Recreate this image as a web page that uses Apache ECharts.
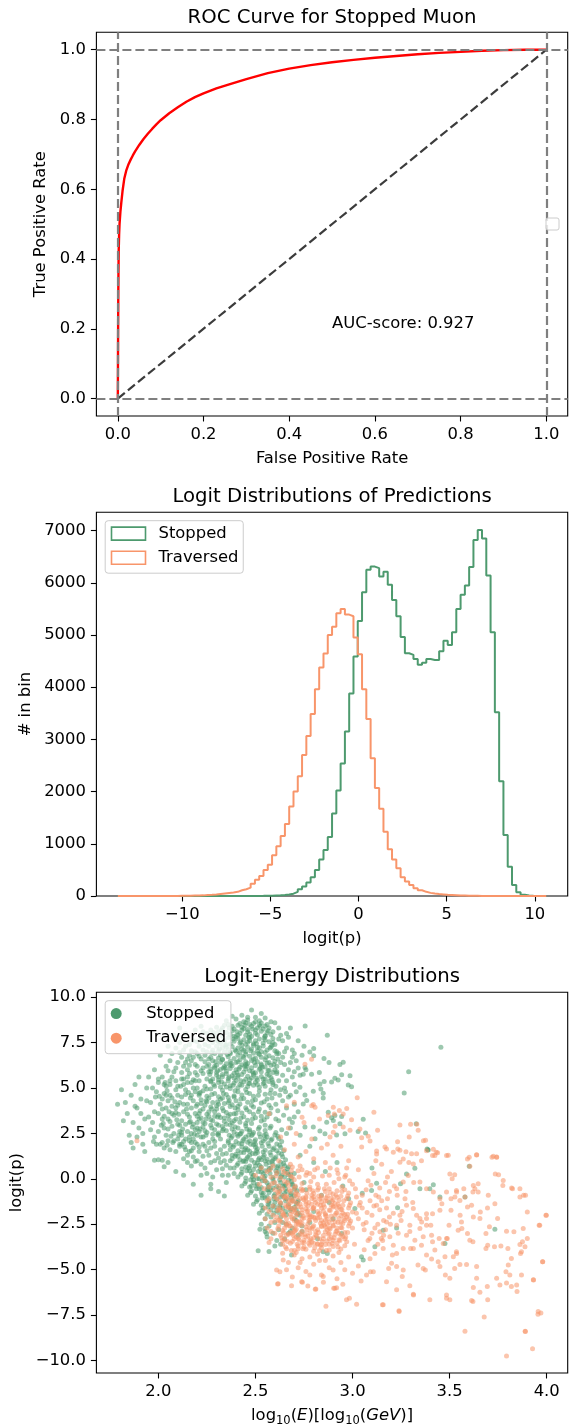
<!DOCTYPE html>
<html><head><meta charset="utf-8">
<script src="https://cdn.jsdelivr.net/npm/echarts@6/dist/echarts.min.js"></script>
<style>html,body{margin:0;padding:0;background:#fff}#c{width:575px;height:1428px}</style>
</head><body><div id="c"></div>
<script>
// ---------- ROC data ----------
const rocFpr = [0,0.0005,0.001,0.0015,0.002,0.003,0.004,0.006,0.008,0.011,0.015,0.02,0.025,0.03,0.035,0.04,0.05,0.06,0.07,0.08,0.09,0.1,0.12,0.14,0.16,0.18,0.2,0.23,0.26,0.3,0.35,0.4,0.45,0.5,0.55,0.6,0.65,0.7,0.75,0.8,0.85,0.9,0.95,1.0];
const rocTpr = [0,0.15,0.28,0.36,0.42,0.47,0.5,0.535,0.56,0.595,0.63,0.655,0.672,0.685,0.697,0.708,0.727,0.744,0.759,0.773,0.786,0.798,0.818,0.835,0.851,0.864,0.875,0.889,0.901,0.916,0.933,0.946,0.956,0.964,0.971,0.977,0.982,0.987,0.991,0.994,0.997,0.999,1.0,1.0];
const chanceLine = [[0,0],[1,1]];
const refXLines = [0,1];
const refYLines = [0,1];
const aucText = 'AUC-score: 0.927';
const aucPos = [0.5,0.2];
const rocTicks = [0,0.2,0.4,0.6,0.8,1.0];

// ---------- Histogram data (100 bins) ----------
const histBinStart = -13.66;
const histBinWidth = 0.2431;
const stoppedCounts = [0,0,0,0,0,0,0,0,0,0,0,0,0,0,0,0,0,0,0,0,0,0,0,0,0,0,0,0,0,0,0,0,
 2,3,5,7,10,13,20,30,45,80,
 130,180,260,360,500,700,880,1130,1580,2020,
 2540,3150,3880,4590,5270,5820,6250,6310,6280,6120,
 6210,5960,5670,5360,4960,4650,4620,4540,4430,4470,
 4540,4520,4520,4690,4890,4810,5050,5500,5770,5950,
 6300,6820,7010,6850,6140,5050,3520,2200,1170,560,
 210,70,25,10,4,2,1,0];
const traversedCounts = [0,1,0,0,1,0,1,1,0,1,1,2,2,
 2,3,4,5,8,10,12,18,22,28,38,48,58,68,80,110,130,160,235,310,385,500,600,780,955,1150,1380,1715,2000,2295,2700,3065,3485,3960,4375,4645,5000,5160,5415,5500,5390,5360,4950,4630,3960,3390,2640,2070,1670,1230,895,700,530,360,280,210,150,110,80,60,48,38,30,22,18,14,10,8,6,4,3,2,2,1,1,
 0,0,0,0,0,0,0,0,0,0,0,1];
const histXTicks = [-10,-5,0,5,10];
const histYTicks = [0,1000,2000,3000,4000,5000,6000,7000];

// ---------- Scatter data: [log10(E), logit(p)] ----------
const stoppedPoints = [
[2.33,8.3],[2.36,8.5],[2.39,8.25],[2.41,8.45],[2.43,8.35],[2.45,8.6],[2.46,8.22],[2.48,8.4],[2.49,8.55],[2.51,8.3],[2.52,8.48],[2.54,8.25],[2.55,8.42],[2.57,8.3],[2.38,8.4],[2.44,8.28],[2.47,8.5],[2.5,8.2],[2.53,8.58],
[2.29,7.9],[2.31,8.1],[2.33,7.85],[2.35,8.05],[2.37,7.95],[2.38,8.15],[2.4,7.82],[2.42,8.0],[2.43,8.18],[2.45,7.9],[2.46,8.08],[2.48,7.84],[2.5,8.02],[2.51,7.93],[2.53,8.12],[2.55,7.88],[2.56,8.05],[2.58,7.95],[2.41,7.92],[2.47,7.98],
[2.28,7.5],[2.3,7.7],[2.32,7.45],[2.34,7.62],[2.36,7.78],[2.37,7.42],[2.39,7.58],[2.41,7.72],[2.42,7.48],[2.44,7.66],[2.46,7.52],[2.47,7.75],[2.49,7.44],[2.5,7.6],[2.52,7.7],[2.54,7.48],[2.55,7.65],[2.57,7.55],[2.59,7.72],[2.45,7.41],
[2.28,7.1],[2.3,7.3],[2.31,7.05],[2.33,7.22],[2.35,7.38],[2.36,7.12],[2.38,7.28],[2.4,7.02],[2.41,7.2],[2.43,7.35],[2.44,7.08],[2.46,7.25],[2.48,7.15],[2.49,7.36],[2.51,7.04],[2.52,7.22],[2.54,7.32],[2.56,7.1],[2.58,7.26],[2.6,7.05],
[2.27,6.7],[2.29,6.9],[2.31,6.65],[2.32,6.82],[2.34,6.98],[2.36,6.72],[2.37,6.88],[2.39,6.62],[2.41,6.8],[2.42,6.95],[2.44,6.68],[2.45,6.86],[2.47,6.75],[2.49,6.92],[2.5,6.64],[2.52,6.84],[2.53,6.7],[2.55,6.96],[2.57,6.78],[2.59,6.66],[2.61,6.88],
[2.26,6.3],[2.28,6.5],[2.3,6.25],[2.32,6.42],[2.33,6.58],[2.35,6.33],[2.37,6.48],[2.38,6.22],[2.4,6.4],[2.42,6.55],[2.43,6.28],[2.45,6.45],[2.46,6.35],[2.48,6.52],[2.5,6.24],[2.51,6.44],[2.53,6.32],[2.55,6.56],[2.56,6.38],[2.58,6.26],[2.6,6.46],
[2.27,5.9],[2.29,6.1],[2.3,5.85],[2.32,6.02],[2.34,6.18],[2.35,5.92],[2.37,6.08],[2.39,5.82],[2.4,6.0],[2.42,6.15],[2.44,5.88],[2.45,6.05],[2.47,5.95],[2.48,6.12],[2.5,5.84],[2.52,6.04],[2.53,5.9],[2.55,6.16],[2.57,5.98],[2.59,5.86],
[2.28,5.5],[2.3,5.7],[2.31,5.45],[2.33,5.62],[2.35,5.78],[2.36,5.52],[2.38,5.68],[2.4,5.42],[2.41,5.6],[2.43,5.75],[2.45,5.48],[2.46,5.65],[2.48,5.55],[2.49,5.72],[2.51,5.44],[2.53,5.64],[2.54,5.5],[2.56,5.76],[2.58,5.58],
[2.29,5.1],[2.31,5.3],[2.32,5.05],[2.34,5.22],[2.36,5.38],[2.37,5.12],[2.39,5.28],[2.41,5.02],[2.42,5.2],[2.44,5.35],[2.46,5.08],[2.47,5.25],[2.49,5.15],[2.5,5.32],[2.52,5.04],[2.54,5.24],[2.55,5.1],[2.57,5.36],
[2.285,8.05],[2.305,7.6],[2.325,8.2],[2.345,7.35],[2.365,8.3],[2.385,7.7],[2.405,8.1],[2.425,7.55],[2.445,8.45],[2.465,7.8],[2.485,8.25],[2.505,7.45],[2.525,8.4],[2.545,7.75],[2.565,8.15],[2.585,7.35],
[2.275,6.95],[2.295,6.45],[2.315,7.15],[2.335,6.1],[2.355,6.85],[2.375,6.35],[2.395,7.1],[2.415,6.05],[2.435,6.75],[2.455,6.2],[2.475,7.05],[2.495,6.4],[2.515,6.9],[2.535,6.15],[2.555,6.7],[2.575,7.2],[2.595,6.3],[2.615,6.6],
[2.265,5.75],[2.285,5.2],[2.305,5.95],[2.325,5.35],[2.345,6.1],[2.365,5.6],[2.385,5.15],[2.405,5.85],[2.425,5.4],[2.445,6.2],[2.465,5.25],[2.485,5.9],[2.505,5.55],[2.525,6.1],[2.545,5.3],[2.565,5.95],[2.585,5.45],[2.605,5.1],
[2.3,8.35],[2.34,8.45],[2.42,8.55],[2.5,8.65],[2.56,8.5],[2.46,8.9],
[2.31,7.55],[2.35,7.25],[2.39,7.85],[2.43,7.15],[2.47,7.6],[2.51,7.25],[2.55,7.85],[2.59,7.5],[2.33,6.55],[2.37,6.95],[2.41,6.45],[2.45,7.0],[2.49,6.6],[2.53,7.0],[2.57,6.4],[2.29,6.2],[2.33,5.75],[2.37,6.25],[2.41,5.7],[2.45,6.3],[2.49,5.8],[2.53,6.25],[2.57,5.7],[2.61,5.9],[2.27,5.35],[2.31,5.6],[2.35,5.05],[2.39,5.55],[2.43,5.15],[2.47,5.45],[2.51,5.2],[2.55,5.5],[2.59,5.3],
[2.06,5.2],[2.08,5.9],[2.1,6.4],[2.12,5.5],[2.13,7.1],[2.15,6.0],[2.16,6.8],[2.17,5.3],[2.18,7.6],[2.19,6.3],[2.2,5.7],[2.21,7.3],[2.22,6.6],[2.23,8.1],[2.24,5.1],[2.25,7.0],[2.26,5.9],[2.27,7.8],[2.11,7.5],[2.14,8.0],[2.19,8.2],[2.22,7.7],[2.07,6.9],[2.09,5.4],[2.13,6.2],[2.16,7.4],[2.2,6.9],[2.23,6.1],[2.25,5.5],[2.26,6.6],[2.18,5.0],[2.04,6.2],[2.02,5.6],[2.05,7.3],[2.08,7.9],[2.12,6.7],[2.17,6.5],[2.21,5.4],[2.24,7.4],[2.27,8.2],[2.15,5.6],[2.1,5.1],[2.19,7.0],[2.23,5.8],[2.26,7.3],[2.14,6.4],[2.22,8.4],[2.03,5.2],[2.0,5.5],[2.06,6.5],[2.09,7.2],[2.16,5.8],[2.2,6.2],[2.24,6.8],[2.27,5.4],[2.11,8.3],[1.98,6.0],[2.01,6.8],[2.25,8.0],[2.18,6.7],
[2.12,5.85],[2.14,7.3],[2.16,6.25],[2.18,5.45],[2.2,7.55],[2.22,5.95],[2.24,6.45],[2.26,7.65],[2.15,6.6],[2.19,5.85],[2.21,6.75],[2.23,7.1],[2.25,6.2],[2.27,6.05],[2.17,7.05],[2.13,5.2],[2.09,6.1],[2.07,5.6],[2.11,6.95],[2.05,5.95],
[2.59,8.1],[2.6,7.4],[2.61,6.2],[2.62,5.4],[2.63,7.9],[2.64,6.7],[2.65,5.0],[2.66,7.2],[2.67,6.0],[2.68,8.3],[2.69,5.6],[2.7,6.9],[2.71,4.8],[2.72,7.6],[2.6,4.7],[2.62,6.9],[2.64,7.6],[2.66,5.4],[2.68,6.4],[2.7,5.9],[2.61,5.8],[2.63,4.9],[2.65,6.3],[2.67,7.8],[2.69,7.1],[2.71,6.5],[2.6,8.6],[2.62,8.3],[2.59,5.2],[2.6,6.0],[2.63,6.4],[2.65,7.0],[2.66,8.0],[2.68,4.6],[2.7,5.2],[2.73,5.7],[2.74,6.8],[2.72,6.1],[2.61,7.0],[2.64,5.7],[2.67,4.5],[2.69,6.7],[2.75,7.3],[2.76,6.0],[2.62,7.7],
[2.35,8.7],[2.4,8.8],[2.43,9.0],[2.46,8.75],[2.48,9.3],[2.5,8.9],[2.52,8.7],[2.55,8.85],[2.58,8.65],[2.44,8.65],[2.38,8.95],[2.53,9.1],
[2.21,4.6],[2.23,4.85],[2.25,4.55],[2.27,4.95],[2.29,4.7],[2.31,4.52],[2.33,4.88],[2.35,4.65],[2.37,4.98],[2.39,4.58],[2.41,4.8],[2.43,4.62],[2.45,4.92],[2.47,4.7],[2.49,4.55],[2.52,4.84],[2.55,4.66],[2.58,4.9],
[2.2,4.1],[2.22,4.35],[2.24,4.05],[2.26,4.45],[2.28,4.2],[2.3,4.02],[2.32,4.38],[2.34,4.15],[2.36,4.48],[2.38,4.08],[2.4,4.3],[2.42,4.12],[2.44,4.42],[2.46,4.22],[2.48,4.05],[2.5,4.36],[2.53,4.18],[2.56,4.4],
[2.21,3.6],[2.23,3.85],[2.25,3.55],[2.27,3.95],[2.29,3.7],[2.31,3.52],[2.33,3.88],[2.35,3.65],[2.37,3.98],[2.39,3.58],[2.41,3.8],[2.43,3.62],[2.45,3.92],[2.47,3.7],[2.49,3.55],[2.52,3.84],[2.55,3.66],[2.58,3.9],
[2.2,3.1],[2.22,3.35],[2.24,3.05],[2.26,3.45],[2.28,3.2],[2.3,3.02],[2.32,3.38],[2.34,3.15],[2.36,3.48],[2.38,3.08],[2.4,3.3],[2.42,3.12],[2.44,3.42],[2.46,3.22],[2.48,3.05],[2.5,3.36],[2.53,3.18],[2.56,3.4],
[2.21,2.6],[2.23,2.85],[2.25,2.55],[2.27,2.95],[2.29,2.7],[2.31,2.52],[2.33,2.88],[2.35,2.65],[2.37,2.98],[2.39,2.58],[2.41,2.8],[2.43,2.62],[2.45,2.92],[2.47,2.7],[2.49,2.55],[2.52,2.84],[2.55,2.66],[2.58,2.9],
[2.215,4.75],[2.245,4.3],[2.275,4.65],[2.305,4.25],[2.335,4.7],[2.365,4.3],[2.395,4.85],[2.425,4.4],[2.455,4.75],[2.485,4.3],[2.515,4.6],[2.545,4.25],[2.575,4.7],
[2.215,3.75],[2.245,3.3],[2.275,3.85],[2.305,3.4],[2.335,3.75],[2.365,3.25],[2.395,3.9],[2.425,3.35],[2.455,3.8],[2.485,3.3],[2.515,3.7],[2.545,3.25],[2.575,3.6],[2.605,3.3],
[2.215,2.75],[2.245,2.4],[2.275,2.8],[2.305,2.45],[2.335,2.75],[2.365,2.4],[2.395,2.85],[2.425,2.5],[2.455,2.75],[2.485,2.45],[2.515,2.75],[2.545,2.4],[2.575,2.8],[2.605,2.55],
[2.25,4.95],[2.33,4.45],[2.41,4.0],[2.49,3.95],[2.57,4.05],[2.29,3.45],[2.37,3.55],[2.45,3.05],[2.53,3.45],[2.23,3.1],[2.31,2.95],[2.39,3.2],[2.47,2.6],[2.55,2.95],
[2.585,4.45],[2.605,4.1],[2.615,3.75],[2.625,4.6],[2.635,2.7],[2.645,3.5],[2.655,4.8],[2.675,3.3],
[1.96,4.2],[1.97,3.1],[1.98,2.3],[1.99,4.8],[2.0,3.6],[2.01,1.9],[2.02,4.4],[2.03,2.8],[2.04,5.1],[2.05,3.3],[2.06,1.6],[2.07,4.0],[2.08,2.5],[2.09,4.9],[2.1,3.0],[2.11,1.8],[2.12,4.5],[2.13,3.7],[2.14,2.2],[2.15,5.3],[2.16,3.4],[2.17,2.0],[2.18,4.3],[2.19,2.7],[2.2,5.0],[1.97,5.0],[1.98,3.7],[2.0,2.6],[2.01,4.1],[2.03,1.7],[2.04,3.9],[2.06,4.6],[2.07,2.9],[2.08,3.5],[2.1,2.2],[2.11,4.2],[2.12,3.2],[2.14,4.9],[2.15,2.6],[2.16,1.5],[2.17,3.9],[2.18,3.0],[2.19,5.4],[2.05,2.1],[2.02,3.3],[1.99,1.9],[2.09,1.5],[2.13,5.5],[2.2,1.9],[2.21,4.7],[2.22,2.3],[2.06,5.4],[2.03,4.7],[1.95,3.4],[1.96,2.7],[2.0,5.3],[2.11,2.6],[2.15,4.1],[2.19,3.6],[2.09,3.9],[2.04,2.4],[2.07,3.6],[2.12,1.9],[2.17,4.6],[2.02,2.0],[2.14,3.0],[2.2,2.8],[2.05,4.3],[2.1,4.6],[2.16,2.3],
[2.005,4.55],[2.025,3.05],[2.045,4.85],[2.065,2.35],[2.085,4.25],[2.105,3.55],[2.125,2.75],[2.145,3.85],[2.165,4.45],[2.185,2.45],[2.015,2.95],[2.035,5.3],[2.055,3.7],[2.075,2.0],[2.095,3.25],[2.115,5.1],[2.135,1.75],[2.155,4.75],[2.175,2.85],[2.195,4.0],[1.985,4.5],[1.975,2.05],[2.045,1.85],[2.105,2.4],[2.165,3.15],
[2.02,3.85],[2.04,4.6],[2.06,3.15],[2.08,2.1],[2.1,4.05],[2.12,2.55],[2.14,4.65],[2.16,3.1],[2.18,2.2],[2.2,3.45],[2.22,4.15],[2.24,2.65],[2.26,3.7],[2.28,2.45],[2.3,3.85],[2.32,2.2],[2.34,3.35],[2.36,4.2],[2.38,2.75],[2.4,3.6],
[2.03,3.45],[2.05,2.75],[2.07,4.45],[2.09,3.65],[2.11,2.95],[2.13,4.1],[2.15,3.55],[2.17,2.5],[2.19,4.8],[2.21,3.3],[2.23,1.9],[2.25,4.25],[2.27,3.25],[2.29,1.8],[2.31,4.1],[2.33,2.65],[2.35,3.0],[2.37,1.85],[2.39,4.5],[2.41,2.35],
[2.15,1.3],[2.19,0.95],[2.23,1.25],[2.27,0.9],[2.31,1.15],[2.35,0.75],[2.25,1.55],[2.29,2.05],[2.33,1.35],[2.21,1.75],[2.17,1.55],[2.13,2.05],[2.39,0.3],[2.37,1.0],[2.33,0.55],
[1.79,4.1],[1.81,4.9],[1.83,4.2],[1.84,3.6],[1.85,2.4],[1.86,4.6],[1.87,3.1],[1.88,5.2],[1.89,3.9],[1.9,2.8],[1.91,4.4],[1.92,1.9],[1.93,3.3],[1.94,5.0],[1.86,2.0],[1.88,4.0],[1.9,5.6],[1.92,2.5],[1.94,4.3],[1.91,3.6],[1.87,1.7],[1.93,1.5],[1.89,2.3],[1.95,5.6],[1.82,3.2],[1.98,1.02],[2.02,1.02],[2.03,0.66],
[2.36,2.1],[2.38,2.35],[2.4,2.05],[2.42,2.45],[2.44,2.2],[2.46,2.02],[2.48,2.38],[2.5,2.15],[2.52,2.48],[2.54,2.08],[2.56,2.3],[2.58,2.12],[2.6,2.42],[2.62,2.22],[2.45,2.3],
[2.37,1.6],[2.39,1.85],[2.41,1.55],[2.43,1.95],[2.45,1.7],[2.47,1.52],[2.49,1.88],[2.51,1.65],[2.53,1.98],[2.55,1.58],[2.57,1.8],[2.59,1.62],[2.61,1.92],[2.63,1.72],[2.5,1.75],
[2.38,1.1],[2.4,1.35],[2.42,1.05],[2.44,1.45],[2.46,1.2],[2.48,1.02],[2.5,1.38],[2.52,1.15],[2.54,1.48],[2.56,1.08],[2.58,1.3],[2.6,1.12],[2.62,1.42],[2.64,1.22],[2.47,1.3],
[2.39,0.6],[2.41,0.85],[2.43,0.55],[2.45,0.95],[2.47,0.7],[2.49,0.52],[2.51,0.88],[2.53,0.65],[2.55,0.98],[2.57,0.58],[2.59,0.8],[2.61,0.62],[2.63,0.92],[2.65,0.72],[2.52,0.75],
[2.41,0.1],[2.43,0.35],[2.45,0.05],[2.47,0.45],[2.49,0.2],[2.51,0.02],[2.53,0.38],[2.55,0.15],[2.57,0.48],[2.59,0.08],[2.61,0.3],[2.63,0.12],[2.65,0.42],[2.67,0.22],[2.54,0.28],
[2.43,-0.4],[2.45,-0.15],[2.47,-0.45],[2.49,-0.05],[2.51,-0.3],[2.53,-0.48],[2.55,-0.12],[2.57,-0.35],[2.59,-0.02],[2.61,-0.42],[2.63,-0.2],[2.65,-0.38],[2.67,-0.08],[2.69,-0.28],[2.56,-0.22],
[2.46,-0.9],[2.48,-0.65],[2.5,-0.95],[2.52,-0.55],[2.54,-0.8],[2.56,-0.98],[2.58,-0.62],[2.6,-0.85],[2.62,-0.52],[2.64,-0.92],[2.66,-0.7],[2.68,-0.88],[2.7,-0.58],[2.57,-0.75],
[2.49,-1.4],[2.51,-1.15],[2.53,-1.45],[2.55,-1.05],[2.57,-1.3],[2.59,-1.48],[2.61,-1.12],[2.63,-1.35],[2.65,-1.02],[2.67,-1.42],[2.69,-1.2],[2.71,-1.38],
[2.52,-1.9],[2.54,-1.6],[2.56,-1.95],[2.58,-1.7],[2.6,-1.55],[2.62,-1.85],[2.64,-1.62],[2.66,-1.98],[2.68,-1.75],[2.7,-1.58],[2.72,-1.88],
[2.375,2.25],[2.405,2.45],[2.435,2.1],[2.465,2.4],[2.495,2.05],[2.525,2.3],[2.555,2.45],[2.585,2.2],[2.615,2.35],[2.635,2.05],
[2.385,1.75],[2.415,1.95],[2.445,1.6],[2.475,1.9],[2.505,1.55],[2.535,1.8],[2.565,1.95],[2.595,1.7],[2.625,1.85],[2.645,1.55],
[2.395,1.25],[2.425,1.45],[2.455,1.1],[2.485,1.4],[2.515,1.05],[2.545,1.3],[2.575,1.45],[2.605,1.2],[2.635,1.35],[2.655,1.05],
[2.405,0.75],[2.435,0.95],[2.465,0.6],[2.495,0.9],[2.525,0.55],[2.555,0.8],[2.585,0.95],[2.615,0.7],[2.645,0.85],[2.665,0.55],
[2.425,0.25],[2.455,0.45],[2.485,0.1],[2.515,0.4],[2.545,0.05],[2.575,0.3],[2.605,0.45],[2.635,0.2],[2.665,0.35],[2.685,0.05],
[2.445,-0.25],[2.475,-0.05],[2.505,-0.4],[2.535,-0.1],[2.565,-0.45],[2.595,-0.2],[2.625,-0.05],[2.655,-0.3],[2.685,-0.15],[2.705,-0.45],
[2.475,-0.75],[2.505,-0.55],[2.535,-0.9],[2.565,-0.6],[2.595,-0.95],[2.625,-0.7],[2.655,-0.55],[2.685,-0.8],[2.715,-0.65],
[2.505,-1.25],[2.535,-1.05],[2.565,-1.4],[2.595,-1.1],[2.625,-1.45],[2.655,-1.2],[2.685,-1.05],[2.715,-1.3],
[2.535,-1.75],[2.565,-1.55],[2.595,-1.9],[2.625,-1.6],[2.655,-1.8],[2.685,-1.65],[2.715,-1.95],
[2.44,1.0],[2.46,1.6],[2.48,0.3],[2.5,1.9],[2.52,0.0],[2.54,1.2],[2.56,-0.6],[2.58,0.6],[2.6,-1.3],[2.62,0.4],[2.64,-0.4],[2.66,-1.1],[2.68,0.25],[2.7,-0.95],[2.47,2.1],[2.49,-0.2],[2.51,1.45],[2.53,-0.75],[2.55,2.2],[2.57,0.9],[2.59,-0.5],[2.61,1.55],[2.63,-1.0],[2.65,0.1],[2.67,-1.55],[2.69,-0.35],[2.71,-1.7],[2.45,0.65],[2.43,1.75],[2.41,1.25],[2.53,1.05],[2.57,-1.2],[2.61,-1.75],[2.55,0.45],[2.59,1.05],[2.63,0.65],[2.65,-0.8],[2.67,0.65],[2.5,0.7],[2.48,-0.4],
[2.12,2.4],[2.14,1.6],[2.16,2.1],[2.18,1.2],[2.2,2.4],[2.22,0.8],[2.24,1.8],[2.26,1.3],[2.28,2.2],[2.3,0.5],[2.32,1.6],[2.34,1.0],[2.36,2.0],[2.13,1.1],[2.17,0.7],[2.21,1.5],[2.25,0.3],[2.29,1.0],[2.33,0.2],[2.35,1.4],[2.19,2.0],[2.23,2.3],[2.27,1.7],[2.31,2.4],[2.15,0.9],[2.37,0.6],[2.24,0.6],[2.28,0.1],[2.32,0.9],[2.36,0.2],[2.11,1.9],[2.2,1.0],[2.26,2.0],[2.3,1.4],[2.34,1.8],[2.38,1.3],[2.18,1.7],[2.22,0.2],[2.35,-0.2],[2.27,-0.3],
[2.22,-0.9],[2.27,-0.55],[2.05,0.9],[2.0,1.05],[2.13,0.2],[2.18,-0.3],[2.31,-0.7],[2.09,0.4],[2.34,-0.95],
[2.55,-2.2],[2.57,-2.6],[2.59,-3.0],[2.6,-2.4],[2.62,-2.8],[2.63,-2.1],[2.65,-3.3],[2.66,-2.5],[2.68,-2.9],[2.7,-2.2],[2.72,-3.1],[2.74,-2.6],[2.53,-2.5],[2.56,-3.2],[2.58,-2.1],[2.61,-3.4],[2.64,-2.4],[2.67,-3.0],[2.69,-2.7],[2.71,-2.3],[2.57,-4.0],[2.6,-3.7],[2.55,-2.9],[2.63,-3.6],[2.73,-2.0],
[2.756,8.41],[2.87,7.9],[3.455,7.24],[2.80,7.17],[2.78,6.99],[2.80,6.77],[2.853,6.62],[2.879,6.4],[2.952,6.42],[2.935,6.29],[3.289,5.89],[3.266,4.72],[3.328,3.03],[3.387,1.6],[2.987,5.68],[2.944,5.73],[2.909,5.54],[2.926,5.44],[2.892,5.33],[2.978,5.16],[2.995,5.07],[2.854,5.36],[2.832,5.22],[2.837,4.94],[2.849,4.71],[2.849,4.45],[2.829,5.86],[2.789,5.76],[2.755,6.13],[2.746,5.76],[2.729,5.04],[3.055,3.28],[3.029,2.61],[3.067,2.53],[2.909,3.49],[2.944,3.43],[2.935,3.03],[2.901,3.21],[2.875,3.67],[2.892,3.36],[2.867,3.12],[2.746,4.12],[2.755,4.61],[2.798,4.82],[2.764,4.31],[2.755,2.85],[2.798,2.85],[2.832,2.63],[2.858,2.48],[2.807,2.21],[2.918,2.42],[2.961,2.48],
[2.66,3.9],[2.7,3.4],[2.68,2.8],[2.72,3.7],[2.64,4.3],[2.7,4.1],[2.73,2.4],[2.66,2.5],[2.62,3.2],[2.69,3.1],
[3.733,-2.77],[3.601,0.69],[3.579,-1.0],[3.45,-1.0],[3.398,-0.55],[3.416,-0.33],[3.39,1.59],[3.321,0.58],[3.247,-0.27],[3.232,-1.59],[3.227,-2.7],[3.158,-2.83],[3.115,-3.74],[3.046,-4.29],[3.055,-4.47],[2.944,-3.01],[2.849,-4.01],[2.87,-4.11],[2.686,-4.2],[2.514,-3.96],[2.549,-2.74],[2.557,-3.01],[2.523,-2.77],[3.476,-3.56],[3.124,-0.24],[3.098,-0.64],[3.012,-1.64],[3.278,0.27],[3.347,-0.55],[3.384,1.64],
[2.72,-1.2],[2.76,-0.6],[2.8,-1.8],[2.84,-0.9],[2.78,-2.4],[2.88,-1.3],[2.74,-2.9],[2.82,-3.3],[2.9,-2.2],[2.95,-0.4],[2.86,0.4],[2.92,0.9],[2.98,-1.1],[2.7,0.3],[2.75,-0.2],[2.8,0.9],[2.73,1.3],[2.78,1.8],[3.05,-0.8],[3.1,0.6]
];

const traversedPoints = [
[2.6,-0.6],[2.62,-0.85],[2.64,-0.55],[2.66,-0.95],[2.68,-0.7],[2.7,-0.52],[2.72,-0.88],[2.74,-0.65],[2.76,-0.98],[2.78,-0.58],[2.8,-0.8],[2.82,-0.62],[2.84,-0.92],[2.86,-0.7],[2.88,-0.55],[2.9,-0.84],[2.92,-0.66],[2.94,-0.96],[2.96,-0.6],[2.98,-0.78],[2.71,-0.75],[2.79,-0.9],[2.87,-0.95],
[2.61,-1.1],[2.63,-1.35],[2.65,-1.05],[2.67,-1.45],[2.69,-1.2],[2.71,-1.02],[2.73,-1.38],[2.75,-1.15],[2.77,-1.48],[2.79,-1.08],[2.81,-1.3],[2.83,-1.12],[2.85,-1.42],[2.87,-1.22],[2.89,-1.05],[2.91,-1.36],[2.93,-1.18],[2.95,-1.46],[2.97,-1.1],[2.99,-1.32],[2.68,-1.3],[2.76,-1.25],[2.84,-1.28],[2.92,-1.02],
[2.62,-1.6],[2.64,-1.85],[2.66,-1.55],[2.68,-1.95],[2.7,-1.7],[2.72,-1.52],[2.74,-1.88],[2.76,-1.65],[2.78,-1.98],[2.8,-1.58],[2.82,-1.8],[2.84,-1.62],[2.86,-1.92],[2.88,-1.72],[2.9,-1.55],[2.92,-1.86],[2.94,-1.68],[2.96,-1.96],[2.98,-1.6],[3.0,-1.82],[2.69,-1.8],[2.77,-1.75],[2.85,-1.78],[2.93,-1.52],
[2.61,-2.1],[2.63,-2.35],[2.65,-2.05],[2.67,-2.45],[2.69,-2.2],[2.71,-2.02],[2.73,-2.38],[2.75,-2.15],[2.77,-2.48],[2.79,-2.08],[2.81,-2.3],[2.83,-2.12],[2.85,-2.42],[2.87,-2.22],[2.89,-2.05],[2.91,-2.36],[2.93,-2.18],[2.95,-2.46],[2.97,-2.1],[2.99,-2.32],[2.7,-2.3],[2.78,-2.25],[2.86,-2.28],[2.94,-2.02],
[2.62,-2.6],[2.64,-2.85],[2.66,-2.55],[2.68,-2.95],[2.7,-2.7],[2.72,-2.52],[2.74,-2.88],[2.76,-2.65],[2.78,-2.98],[2.8,-2.58],[2.82,-2.8],[2.84,-2.62],[2.86,-2.92],[2.88,-2.72],[2.9,-2.55],[2.92,-2.86],[2.94,-2.68],[2.96,-2.96],[2.98,-2.6],[2.71,-2.78],[2.79,-2.75],[2.87,-2.8],
[2.63,-3.1],[2.65,-3.35],[2.67,-3.05],[2.69,-3.45],[2.71,-3.2],[2.73,-3.02],[2.75,-3.38],[2.77,-3.15],[2.79,-3.48],[2.81,-3.08],[2.83,-3.3],[2.85,-3.12],[2.87,-3.42],[2.89,-3.22],[2.91,-3.05],[2.93,-3.36],[2.95,-3.18],[2.97,-3.46],[2.72,-3.28],[2.8,-3.25],[2.88,-3.3],
[2.64,-3.6],[2.66,-3.85],[2.68,-3.55],[2.7,-3.95],[2.72,-3.7],[2.74,-3.52],[2.76,-3.88],[2.78,-3.65],[2.8,-3.98],[2.82,-3.58],[2.84,-3.8],[2.86,-3.62],[2.88,-3.92],[2.9,-3.72],[2.92,-3.55],[2.94,-3.86],[2.96,-3.68],[2.75,-3.75],[2.83,-3.95],
[2.615,-0.75],[2.645,-0.95],[2.675,-0.6],[2.705,-0.85],[2.735,-0.55],[2.765,-0.8],[2.795,-0.65],[2.825,-0.95],[2.855,-0.55],[2.885,-0.75],[2.915,-0.9],[2.945,-0.7],[2.975,-0.95],
[2.625,-1.25],[2.655,-1.45],[2.685,-1.1],[2.715,-1.35],[2.745,-1.05],[2.775,-1.3],[2.805,-1.15],[2.835,-1.45],[2.865,-1.05],[2.895,-1.25],[2.925,-1.4],[2.955,-1.2],[2.985,-1.45],
[2.615,-1.75],[2.645,-1.95],[2.675,-1.6],[2.705,-1.85],[2.735,-1.55],[2.765,-1.8],[2.795,-1.65],[2.825,-1.95],[2.855,-1.55],[2.885,-1.75],[2.915,-1.9],[2.945,-1.7],[2.975,-1.95],
[2.625,-2.25],[2.655,-2.45],[2.685,-2.1],[2.715,-2.35],[2.745,-2.05],[2.775,-2.3],[2.805,-2.15],[2.835,-2.45],[2.865,-2.05],[2.895,-2.25],[2.925,-2.4],[2.955,-2.2],[2.985,-2.45],
[2.615,-2.75],[2.645,-2.95],[2.675,-2.6],[2.705,-2.85],[2.735,-2.55],[2.765,-2.8],[2.795,-2.65],[2.825,-2.95],[2.855,-2.55],[2.885,-2.75],[2.915,-2.9],[2.945,-2.7],[2.975,-2.95],
[2.635,-3.25],[2.665,-3.45],[2.695,-3.1],[2.725,-3.35],[2.755,-3.05],[2.785,-3.3],[2.815,-3.15],[2.845,-3.45],[2.875,-3.05],[2.905,-3.25],[2.935,-3.4],[2.965,-3.2],
[2.655,-3.75],[2.685,-3.95],[2.715,-3.6],[2.745,-3.85],[2.775,-3.55],[2.805,-3.8],[2.835,-3.65],[2.865,-3.95],[2.895,-3.55],[2.925,-3.75],
[2.66,-1.0],[2.7,-1.6],[2.74,-2.2],[2.78,-2.7],[2.82,-1.4],[2.86,-2.0],[2.9,-2.6],[2.74,-3.1],[2.8,-1.0],[2.84,-3.6],[2.68,-2.6],[2.72,-1.9],[2.76,-1.4],[2.8,-2.1],[2.84,-2.6],[2.88,-3.0],[2.7,-3.3],[2.9,-1.5],[2.64,-2.0],[2.94,-2.4],
[2.63,-1.7],[2.65,-2.7],[2.67,-1.2],[2.69,-3.0],[2.71,-2.5],[2.73,-1.1],[2.75,-3.5],[2.77,-2.0],[2.79,-1.4],[2.81,-2.9],[2.83,-1.9],[2.85,-3.3],[2.87,-2.5],[2.89,-1.45],[2.91,-2.0],[2.93,-3.0],[2.95,-1.9],[2.64,-3.4],[2.66,-2.2],[2.68,-1.6],[2.7,-2.9],[2.72,-2.4],[2.74,-1.7],[2.76,-3.2],[2.78,-2.1],[2.8,-1.6],[2.82,-3.6],[2.84,-2.3],[2.86,-1.2],[2.88,-2.4],[2.9,-3.4],[2.92,-1.6],[2.94,-3.1],[2.96,-2.3],[2.62,-2.3],[2.7,-1.25],[2.78,-3.4],[2.86,-2.65],[2.74,-2.45],[2.82,-2.15],[2.9,-1.15],[2.66,-3.1],[2.72,-3.85],[2.8,-3.55],[2.88,-3.6],[2.76,-1.05],[2.84,-1.05],[2.92,-2.7],[2.98,-2.2],[2.96,-3.3],
[2.5,0.2],[2.52,-0.3],[2.53,0.6],[2.55,-0.1],[2.56,0.4],[2.57,-0.45],[2.58,0.1],[2.59,0.7],[2.6,-0.2],[2.61,0.35],[2.62,-0.4],[2.63,0.05],[2.64,0.55],[2.65,-0.15],[2.66,0.3],[2.67,-0.35],[2.68,0.15],[2.69,0.65],[2.7,-0.05],[2.72,0.45],[2.74,-0.25],[2.76,0.2],[2.78,-0.45],[2.8,0.1],[2.82,-0.3],
[2.535,0.1],[2.545,-0.55],[2.575,0.5],[2.585,-0.25],[2.605,0.15],[2.625,-0.65],[2.645,0.35],[2.665,-0.2],[2.685,0.45],[2.705,-0.4],[2.725,0.1],[2.745,-0.6],[2.765,0.35],[2.785,-0.15],[2.805,0.5],[2.825,-0.5],[2.845,0.15],[2.865,-0.3],[2.885,0.6],[2.905,-0.2],[2.925,0.3],[2.945,-0.45],[2.965,0.2],[2.985,-0.1],
[2.56,-1.2],[2.57,-1.8],[2.58,-2.4],[2.59,-1.5],[2.6,-3.0],[2.56,-2.7],[2.58,-3.3],[2.59,-2.0],[2.6,-1.0],[2.57,-3.5],[2.55,-1.6],[2.58,-2.9],[2.6,-2.3],[2.57,-1.1],[2.55,-2.2],
[3.381,1.55],[3.424,1.28],[3.484,1.28],[3.355,1.0],[3.313,0.82],[3.244,0.91],[3.21,1.46],[3.175,1.64],[3.124,1.37],[3.287,0.18],[3.261,-0.18],[3.227,-0.55],[3.347,-0.18],[3.381,-0.55],[3.416,-0.73],[3.45,-1.1],[3.484,-0.73],[3.45,-1.73],[3.381,-1.92],[3.347,-2.19],[3.313,-1.64],[3.278,-1.46],[3.244,-2.01],[3.295,-2.55],[3.347,-2.74],[3.381,-2.55],[3.407,-3.1],[3.364,-3.19],[3.321,-3.38],[3.278,-3.1],[3.227,-2.55],[3.21,-3.65],[3.261,-3.83],[3.313,-3.83],[3.355,-3.65],[3.227,-4.11],[3.192,-3.19],[3.158,-3.83],[3.115,-4.11],[3.089,-3.28],[3.141,-2.92],[3.175,-2.37],[3.124,-1.46],
[3.0,-0.3],[3.02,-1.0],[3.03,-2.2],[3.05,-1.6],[3.06,-2.8],[3.07,-0.6],[3.08,-3.4],[3.09,-1.2],[3.1,-2.0],[3.11,0.3],[3.12,-0.9],[3.13,-2.5],[3.14,-1.7],[3.15,0.8],[3.16,-3.1],[3.17,-0.2],[3.18,-1.1],[3.19,-2.1],[3.2,0.4],[3.0,-2.7],[3.01,-3.6],[3.03,0.5],[3.04,-1.3],[3.06,-3.9],[3.08,-0.1],[3.1,-3.0],[3.12,1.0],[3.14,-0.5],[3.16,-2.3],[3.18,0.1],[3.02,-1.9],[3.05,-0.9],[3.07,-2.4],[3.09,-4.4],[3.11,-1.5],[3.13,-3.6],[3.15,-1.2],[3.17,-2.8],[3.19,-0.7],[3.21,-1.9],[3.23,-0.9],[3.25,-2.3],[3.27,-1.1],[3.29,0.9],[3.31,-1.3],[3.33,-2.0],
[3.015,-0.55],[3.035,-1.45],[3.055,-2.5],[3.075,-1.85],[3.095,-0.35],[3.115,-2.7],[3.135,-1.0],[3.155,-3.4],[3.175,-1.6],[3.195,-2.5],[3.215,-0.4],[3.235,-3.0],[3.255,-1.8],[3.275,-0.7],[3.295,-2.9],[3.315,-0.2],
[3.024,4.47],[3.11,3.67],[3.129,2.67],[3.244,2.97],[3.292,2.31],[3.338,2.67],[3.376,2.13],[3.232,2.04],[3.416,1.63],[3.438,1.44],[3.493,1.3],[3.639,1.33],[3.725,1.24],[3.742,1.2],[2.901,3.94],[2.932,3.76],[2.97,3.87],[2.952,3.57],[2.906,3.57],[2.875,3.49],[2.789,6.58],[2.755,6.31],[2.798,4.09],[2.807,3.94],[2.995,3.25],[3.038,2.75],[3.047,2.26],[3.081,2.35],[3.09,2.08],[3.124,1.53],[3.167,1.75],[3.047,1.75],[2.987,2.67],[2.952,2.85],[2.901,2.56],[2.884,2.3],[3.244,1.57],[3.275,1.49],[3.304,1.38],[3.33,1.38],
[2.62,1.0],[2.65,1.6],[2.68,0.8],[2.7,1.9],[2.72,1.2],[2.74,0.5],[2.76,1.5],[2.78,0.3],[2.8,1.1],[2.82,0.6],[2.84,1.7],[2.86,0.9],[2.88,0.2],[2.9,1.3],[2.92,0.5],[2.94,1.8],[2.96,0.1],[2.98,1.0],[2.63,2.3],[2.67,2.8],[2.71,2.5],[2.75,3.1],[2.79,2.2],[2.83,3.3],[2.87,1.9],[2.91,2.9],[2.93,0.0],[2.97,0.6],[2.69,0.1],[2.73,0.7],
[1.89,2.1],[2.66,4.03],[2.7,4.21],[2.79,4.03],[2.74,3.39],[2.57,3.58],
[2.617,-5.78],[2.686,-5.88],[2.626,-5.11],[2.643,-4.47],[2.738,-5.66],[2.78,-5.29],[2.811,-6.06],[2.863,-7.02],[2.909,-6.02],[2.969,-6.66],[3.021,-6.9],[2.609,-5.02],
[2.64,-4.1],[2.67,-4.6],[2.7,-4.2],[2.72,-4.9],[2.74,-4.4],[2.76,-5.1],[2.78,-4.3],[2.8,-4.7],[2.82,-4.15],[2.84,-5.3],[2.86,-4.5],[2.88,-4.9],[2.9,-4.25],[2.92,-5.5],[2.94,-4.6],[2.96,-5.0],[2.98,-4.3],[3.0,-5.2],[2.69,-5.4],[2.77,-5.9],[2.85,-5.7],[2.93,-4.05],[2.71,-4.05],[2.83,-4.5],[2.95,-5.8],[3.03,-4.8],[2.66,-5.0],[2.73,-4.6],
[3.996,-2.01],[3.961,-2.55],[3.979,-4.56],[3.931,-5.56],[3.956,-7.3],[3.97,-7.39],[3.927,-9.36],[3.889,-8.39],[3.793,-9.76],[3.579,-8.39],[3.678,-7.61],[3.845,-5.84],[3.888,-3.74],[3.9,-3.28],[3.879,-2.74],[3.865,-4.11],[3.862,-3.61],[3.831,-2.92],[3.793,-2.88],[3.764,-3.7],[3.731,-3.74],[3.687,-3.83],[3.687,-3.01],[3.747,-2.19],[3.695,-1.61],[3.699,-0.91],[3.776,-0.09],[3.824,-0.55],[3.891,-0.91],[3.862,-0.55],[3.735,0.27],[3.742,1.19],[3.718,1.19],[3.639,1.31],[3.601,1.19],[3.604,0.69],[3.647,-0.73],[3.63,-0.55],[3.647,-0.27],[3.622,-0.37],[3.613,-1.46],[3.553,-1.19],[3.527,-1.0],[3.513,0.0],[3.501,0.27],[3.536,-0.73],[3.579,-1.0],[3.656,-2.19],[3.622,-2.1],[3.561,-2.37],[3.507,-1.73],[3.544,-2.83],[3.592,-3.01],[3.604,-3.38],[3.484,-3.28],[3.446,-3.28],[3.424,-3.92],[3.467,-3.56],[3.536,-4.11],[3.519,-4.29],[3.476,-4.29],[3.381,-4.2],[3.407,-4.42],[3.364,-4.93],[3.45,-4.83],[3.501,-5.47],[3.553,-4.71],[3.587,-4.71],[3.639,-4.83],[3.622,-5.98],[3.694,-5.93],[3.742,-5.47],[3.802,-4.74],[3.81,-5.29],[3.87,-5.29],[3.793,-5.73],[3.759,-5.84],[3.613,-6.7],[3.656,-6.24],[3.484,-6.39],[3.501,-6.66],[3.398,-6.66],[3.313,-6.35],[3.295,-5.89],[3.227,-6.11],[3.24,-7.3],[3.158,-6.93],[3.227,-4.83],[3.201,-4.65],[3.261,-5.02],[3.175,-5.66],[3.107,-5.11],[3.072,-5.29],[2.918,-5.99],[2.849,-5.38],[2.9,-5.02],
[3.484,-6.57],[3.62,-6.75],[3.696,-6.66],[3.818,-5.93],[3.847,-6.2],[3.89,-8.4],[3.932,-5.57],[3.79,-5.11],[3.9,-1.82],[3.881,-0.91],[3.862,-1.0],[3.819,-0.51],[3.733,-1.37],[3.705,-2.64],[3.696,-3.65],[3.8,-3.83],[3.875,-3.46],[3.818,-4.38],[3.87,-4.01],[3.62,-3.46],[3.639,-5.47],[3.535,-4.01],[3.526,-4.93],[3.478,-5.29],[3.441,-4.56],[3.412,-3.46],[3.337,-4.74],[3.375,-5.02],[3.299,-3.83],[3.256,-5.38],[3.205,-4.2],[3.148,-3.28],[3.044,-5.62],[3.092,-5.11],[3.186,-4.93],[3.526,0.22],[3.592,1.09],[3.752,0.22],[3.774,-0.37],[3.62,-0.73],[3.573,-0.55],[3.535,-0.64],[3.507,-1.09],[3.46,-1.37],[3.592,-1.55],[3.658,-1.82],[3.554,-2.01],[3.497,-2.56],[3.488,-3.28],[3.563,-2.74],[3.412,-1.92],[3.356,-2.37],[3.403,-2.56],[3.381,-2.19],[3.431,1.46],[3.412,1.28],[3.365,2.1],[3.299,3.01],[3.331,3.01],[3.233,1.64],[3.261,1.09],[2.614,-5.79],[2.742,-5.69],[2.808,-6.08],[2.903,-6.03],[2.984,-6.57],[3.154,-6.93],[3.239,-7.26],[3.314,-6.39],[3.964,-2.56],[3.998,-2.01],[3.979,-4.56],[3.955,-7.45]
];
const scatXTicks = [2,2.5,3,3.5,4];
const scatYTicks = [-10,-7.5,-5,-2.5,0,2.5,5,7.5,10];

// ---------- styling ----------
const GREEN = '#4d9a6e', ORANGE = '#f8956a';
const FONT = 'DejaVu Sans';
const TICK_FS = 16.4, TITLE_FS = 19.7;
const minus = s => String(s).replace('-', '\u2212');

function buildHistLine(counts) {
  const pts = [[histBinStart, 0]];
  for (let i = 0; i < counts.length; i++) {
    const e0 = histBinStart + i * histBinWidth, e1 = histBinStart + (i + 1) * histBinWidth;
    pts.push([e0, counts[i]], [e1, counts[i]]);
  }
  pts.push([histBinStart + counts.length * histBinWidth, 0]);
  return pts;
}

const gridBox = {show: true, borderColor: '#000', borderWidth: 1.1, backgroundColor: 'transparent'};
const L = 96.4, W = 471.3, H = 383.7;

function valAxis(idx, min, max, ticks, fmt, name, nameGap, extra) {
  return Object.assign({
    type: 'value', gridIndex: idx, min: min, max: max,
    axisLine: {show: false, onZero: false},
    splitLine: {show: false},
    axisTick: {show: true, length: 5.5, inside: false, customValues: ticks, lineStyle: {color: '#000', width: 1.1}},
    axisLabel: {customValues: ticks, formatter: fmt, color: '#000', fontFamily: FONT, fontSize: TICK_FS, margin: 10.5},
    name: name, nameLocation: 'middle', nameGap: nameGap,
    nameTextStyle: {color: '#000', fontFamily: FONT, fontSize: TICK_FS}
  }, extra || {});
}

const histXMin = histBinStart - 0.05 * stoppedCounts.length * histBinWidth;
const histXMax = histBinStart + 1.05 * stoppedCounts.length * histBinWidth;
const emptyLegendBox = {type: 'rect', shape: {x: 546, y: 218, width: 13, height: 12, r: 2}, style: {fill: 'rgba(255,255,255,0.8)', stroke: '#cccccc', lineWidth: 1}, z: 100, silent: true};

const chart = echarts.init(document.getElementById('c'), null, {renderer: 'canvas', width: 575, height: 1428});
chart.setOption({
  animation: false,
  backgroundColor: '#fff',
  textStyle: {fontFamily: FONT},
  title: [
    {text: 'ROC Curve for Stopped Muon', left: L + W / 2, top: 7.5, textAlign: 'center', padding: 0, textStyle: {fontFamily: FONT, fontSize: TITLE_FS, fontWeight: 'normal', color: '#000'}},
    {text: 'Logit Distributions of Predictions', left: L + W / 2, top: 487, textAlign: 'center', padding: 0, textStyle: {fontFamily: FONT, fontSize: TITLE_FS, fontWeight: 'normal', color: '#000'}},
    {text: 'Logit-Energy Distributions', left: L + W / 2, top: 967, textAlign: 'center', padding: 0, textStyle: {fontFamily: FONT, fontSize: TITLE_FS, fontWeight: 'normal', color: '#000'}}
  ],
  grid: [
    Object.assign({left: L, top: 32.3, width: W, height: H}, gridBox),
    Object.assign({left: L, top: 512.3, width: W, height: H}, gridBox),
    Object.assign({left: L, top: 992.3, width: W, height: H}, gridBox)
  ],
  legend: [
    {
      left: 105.2, top: 520.7, orient: 'vertical', itemGap: 8.1, padding: [4.9, 4.8, 7.5, 5.5],
      itemWidth: 34, itemHeight: 13, borderColor: '#cccccc', borderWidth: 1, borderRadius: 3,
      backgroundColor: 'rgba(255,255,255,0.8)', selectedMode: false,
      textStyle: {fontFamily: FONT, fontSize: TICK_FS, color: '#000', padding: [0, 0, 0, 8]},
      data: [
        {name: 'Stopped', icon: 'rect', itemStyle: {color: '#ffffff', borderColor: GREEN, borderWidth: 1.6, opacity: 1}},
        {name: 'Traversed', icon: 'rect', itemStyle: {color: '#ffffff', borderColor: ORANGE, borderWidth: 1.6, opacity: 1}}
      ]
    },
    {
      left: 105.2, top: 1000.7, orient: 'vertical', itemGap: 8.6, padding: [4.9, 4.8, 7.5, 5.5],
      itemWidth: 34, itemHeight: 11, borderColor: '#cccccc', borderWidth: 1, borderRadius: 3,
      backgroundColor: 'rgba(255,255,255,0.8)', selectedMode: false,
      textStyle: {fontFamily: FONT, fontSize: TICK_FS, color: '#000', padding: [0, 0, 0, 8]},
      data: [
        {name: 'Stopped', icon: 'circle', itemStyle: {color: GREEN, borderWidth: 0, opacity: 1}},
        {name: 'Traversed', icon: 'circle', itemStyle: {color: ORANGE, borderWidth: 0, opacity: 1}}
      ]
    }
  ],
  xAxis: [
    valAxis(0, -0.05, 1.05, rocTicks, v => v.toFixed(1), 'False Positive Rate', 35),
    valAxis(1, histXMin, histXMax, histXTicks, v => minus(v), 'logit(p)', 35),
    valAxis(2, 1.681, 4.108, scatXTicks, v => v.toFixed(1),
      '{n|log}{s|10}{n|(}{i|E}{n|)[log}{s|10}{n|(}{i|GeV}{n|)]}', 32,
      {nameTextStyle: {color: '#000', fontFamily: FONT, fontSize: TICK_FS, rich: {
        n: {fontFamily: FONT, fontSize: TICK_FS, color: '#000'},
        s: {fontFamily: FONT, fontSize: 11.5, color: '#000', padding: [10, 0, 0, 0]},
        i: {fontFamily: FONT, fontSize: TICK_FS, color: '#000', fontStyle: 'italic'}
      }}})
  ],
  yAxis: [
    valAxis(0, -0.05, 1.05, rocTicks, v => v.toFixed(1), 'True Positive Rate', 42),
    valAxis(1, 0, 7350, histYTicks, v => String(v), '# in bin', 58),
    valAxis(2, -10.69, 10.27, scatYTicks, v => minus(v.toFixed(1)), 'logit(p)', 68)
  ],
  series: [
    {
      name: 'ROC', type: 'line', xAxisIndex: 0, yAxisIndex: 0, showSymbol: false, symbol: 'none',
      data: rocFpr.map((f, i) => [f, rocTpr[i]]), clip: false,
      lineStyle: {color: '#ff0000', width: 2.4, join: 'round'}, z: 2
    },
    {
      name: 'chance', type: 'line', xAxisIndex: 0, yAxisIndex: 0, symbol: 'none', data: chanceLine,
      lineStyle: {color: '#3c3c3c', width: 2.2, type: [9, 4]}, z: 3, silent: true,
      markLine: {
        silent: true, symbol: ['none', 'none'], label: {show: false},
        lineStyle: {color: '#7f7f7f', width: 2.2, type: [9, 4]},
        data: refXLines.map(v => ({xAxis: v})).concat(refYLines.map(v => ({yAxis: v})))
      }
    },
    {
      name: 'Stopped', type: 'line', xAxisIndex: 1, yAxisIndex: 1, symbol: 'none', showSymbol: false,
      data: buildHistLine(stoppedCounts), clip: false, color: GREEN,
      lineStyle: {color: GREEN, width: 2}, itemStyle: {color: GREEN}
    },
    {
      name: 'Traversed', type: 'line', xAxisIndex: 1, yAxisIndex: 1, symbol: 'none', showSymbol: false,
      data: buildHistLine(traversedCounts), clip: false, color: ORANGE,
      lineStyle: {color: ORANGE, width: 2}, itemStyle: {color: ORANGE}
    },
    {
      name: 'Stopped', type: 'scatter', xAxisIndex: 2, yAxisIndex: 2, data: stoppedPoints,
      symbolSize: 5, itemStyle: {color: GREEN, opacity: 0.55, borderWidth: 0}, silent: true, large: false
    },
    {
      name: 'Traversed', type: 'scatter', xAxisIndex: 2, yAxisIndex: 2, data: traversedPoints,
      symbolSize: 5, itemStyle: {color: ORANGE, opacity: 0.55, borderWidth: 0}, silent: true, large: false
    }
  ],
  graphic: [emptyLegendBox]
});

// AUC annotation placed at its data coordinate through the ROC axes
const aucPx = chart.convertToPixel({xAxisIndex: 0, yAxisIndex: 0}, aucPos);
chart.setOption({
  graphic: [emptyLegendBox, {
    type: 'text', x: aucPx[0], y: aucPx[1] - 5.5, silent: true, z: 50,
    style: {text: aucText, fill: '#000', font: TICK_FS + 'px "' + FONT + '"', align: 'left', verticalAlign: 'middle'}
  }]
});
</script>
</body></html>
